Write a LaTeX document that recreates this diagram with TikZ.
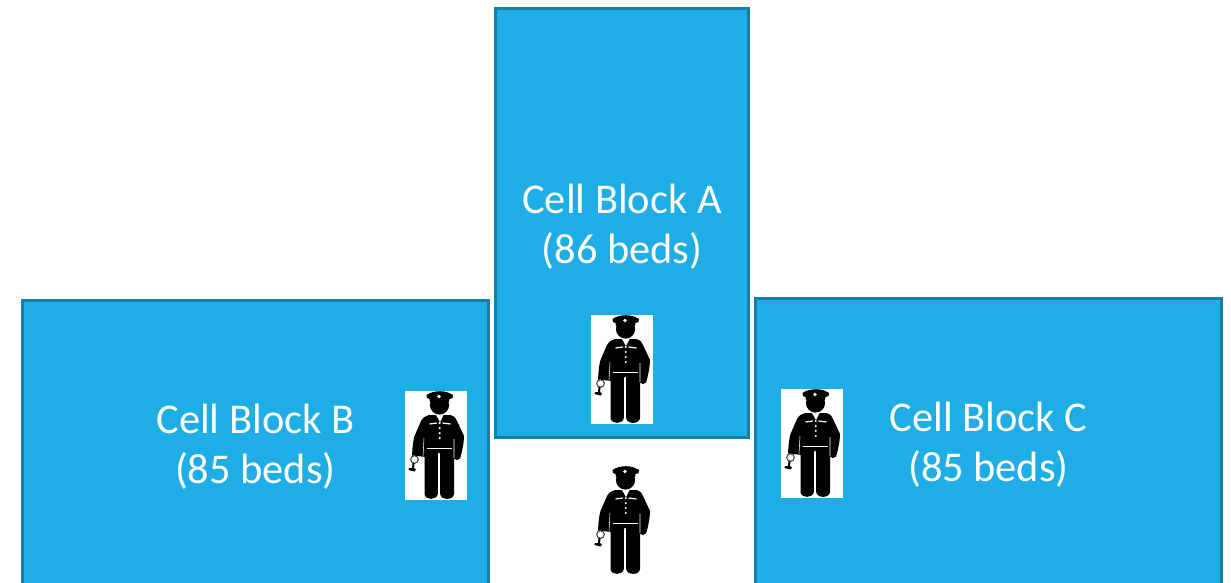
\documentclass[tikz,border=0pt]{standalone}
\usepackage{fontspec}
\setmainfont{Carlito}
\definecolor{cellfill}{HTML}{1EADE5}
\definecolor{celledge}{HTML}{1A7FA8}
\newcommand{\topstrut}{\rule{0pt}{27.5pt}}
\tikzset{
  x=0.75pt,y=-0.75pt,
  cellblock/.style={draw=celledge,fill=cellfill,line width=2.25pt,inner sep=0pt,text=white,
    align=center,font=\fontsize{31.8}{37.5}\selectfont},
  guard/.pic={
    \fill[white] (0,0) rectangle (61.5,109);
    % head
    \fill[black] (34.5,14) circle (9.6);
    % hat
    \fill[black] (21.5,4) .. controls (25,1.5) and (30,0.2) .. (35,0.2)
      .. controls (40,0.2) and (44,1.5) .. (48,4) -- (47.5,7) -- (44.5,8) -- (44,11) -- (25,11) -- (24.5,8) -- (22,7) -- cycle;
    % torso, arms and legs
    \fill[black] (24,24) -- (45.5,24) .. controls (48.5,24.5) and (50.5,26.5) .. (52,30)
      -- (59,45) .. controls (59,50) and (57.5,60) .. (55,67.5) .. controls (53.5,69.5) and (50.5,69.5) .. (49,67.5)
      -- (49,103) .. controls (48.5,109.5) and (35.8,109.5) .. (35.2,103)
      -- (35,62) -- (33,62) -- (32.8,103) .. controls (32,109.5) and (20,109.5) .. (19.5,103)
      -- (19.5,66) -- (16.5,65.5) -- (7,64.5) .. controls (7.5,56) and (8,50) .. (9.5,45)
      -- (16,30) .. controls (18,26.5) and (21,24.5) .. (24,24) -- cycle;
    % uniform details
    \fill[white] (34,5.5) circle (1.8);
    \fill[white] (31,24) -- (38.5,24) -- (35,31) -- cycle;
    \draw[white,line width=0.9pt] (24.5,33) -- (32,32) (37.5,32) -- (45.5,33);
    \foreach \by in {32,37,42,47} \fill[white] (34.7,\by) circle (1.2);
    \draw[white,line width=1pt] (21.7,57.5) -- (47,57.5);
    \draw[white,line width=0.4pt] (19,47) -- (18,65.5) (49,48) -- (49,67);
    % keys
    \draw[black!75,line width=0.8pt,fill=white] (9.5,68.5) circle (3.8);
    \fill[black] (7.5,72) -- (9.5,72.5) -- (9,77) -- (11,78.5) -- (9.5,80.5) -- (3.5,79) -- (4,77) -- (7,77) -- cycle;
  },
}
\begin{document}
\begin{tikzpicture}
  \useasboundingbox (0,0) rectangle (1231,582);
  \clip (0,0) rectangle (1231,582);
  \node[cellblock,minimum width=189.75pt,minimum height=322pt] (blockA) at (622,222.7) {\topstrut Cell Block A\\(86 beds)};
  \node[cellblock,minimum width=349.5pt,minimum height=214.5pt] (blockB) at (255.4,443) {\topstrut Cell Block B\\(85 beds)};
  \node[cellblock,minimum width=349.5pt,minimum height=214.5pt] (blockC) at (988.4,441) {\topstrut Cell Block C\\(85 beds)};
  \pic at (591,315) {guard};
  \pic at (405,391) {guard};
  \pic at (781,389) {guard};
  \pic at (591,466) {guard};
\end{tikzpicture}
\end{document}
